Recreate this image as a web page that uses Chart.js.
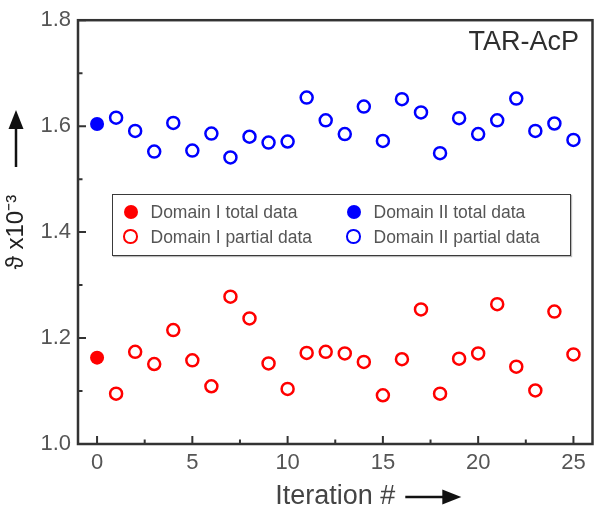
<!DOCTYPE html>
<html>
<head>
<meta charset="utf-8">
<script src="https://cdn.jsdelivr.net/npm/chart.js@4.4.1/dist/chart.umd.min.js"></script>
<style>
    html, body { margin: 0; padding: 0; background: #fff; }
    #wrap { position: relative; width: 601px; height: 518px; font-family: 'Liberation Sans', Arial, sans-serif; }
    #tag { position: absolute; right: 22px; top: 28px; font-size: 27px; line-height: 27px; color: #2e2e2e; }
    #legend { position: absolute; left: 112px; top: 194px; width: 459px; height: 62px; box-sizing: border-box;
              border: 1.5px solid #3a3a3a; box-shadow: 1px 1px 1px #bbb; background: #fff; }
    .lbl { position: absolute; font-size: 17.5px; line-height: 20px; color: #555; white-space: nowrap; }
    .dot { position: absolute; border-radius: 50%; box-sizing: border-box; }
</style>
</head>
<body>
<div id="wrap">
    <canvas id="grafico" width="601" height="518"></canvas>
    <div id="tag">TAR-AcP</div>
    <div id="legend"></div>
</div>
<script>
// iteration number of each partial-data run
const iteraciones = [1, 2, 3, 4, 5, 6, 7, 8, 9, 10, 11, 12, 13, 14, 15, 16, 17, 18, 19, 20, 21, 22, 23, 24, 25]
const dominio1Total = 1.163
const dominio2Total = 1.604
const dominio1Parcial = [1.095, 1.174, 1.151, 1.215, 1.158, 1.109, 1.278, 1.237, 1.152, 1.104, 1.172, 1.174, 1.171,
    1.155, 1.092, 1.160, 1.254, 1.095, 1.161, 1.171, 1.264, 1.146, 1.101, 1.250, 1.169]
const dominio2Parcial = [1.616, 1.591, 1.552, 1.606, 1.554, 1.586, 1.541, 1.580, 1.569, 1.571, 1.654, 1.611, 1.585,
    1.637, 1.572, 1.651, 1.626, 1.549, 1.615, 1.585, 1.611, 1.652, 1.591, 1.605, 1.574]

const xTicks = [0, 5, 10, 15, 20, 25]
const xMenores = [2.5, 7.5, 12.5, 17.5, 22.5]
const yTicks = [1.0, 1.2, 1.4, 1.6, 1.8]
const yMenores = [1.1, 1.3, 1.5, 1.7]

const fuente = "'Liberation Sans', Arial, sans-serif"
const rojo = '#ff0000'
const azul = '#0000ff'

const puntos = (xs, ys) => xs.map((x, i) => ({ x: x, y: ys[i] }))

// frame, inward ticks and the two arrows next to the axis titles
const marco = {
    id: 'marco',
    afterDraw(chart) {
        const { ctx, chartArea: a, scales: { x, y } } = chart
        ctx.save()
        ctx.strokeStyle = '#333'
        ctx.lineWidth = 2.5
        ctx.strokeRect(a.left, a.top, a.right - a.left, a.bottom - a.top)
        ctx.lineWidth = 2
        ctx.beginPath()
        for (const v of xTicks) { const px = x.getPixelForValue(v); ctx.moveTo(px, a.bottom); ctx.lineTo(px, a.bottom - 8) }
        for (const v of xMenores) { const px = x.getPixelForValue(v); ctx.moveTo(px, a.bottom); ctx.lineTo(px, a.bottom - 4.5) }
        for (const v of yTicks) { const py = y.getPixelForValue(v); ctx.moveTo(a.left, py); ctx.lineTo(a.left + 8, py) }
        for (const v of yMenores) { const py = y.getPixelForValue(v); ctx.moveTo(a.left, py); ctx.lineTo(a.left + 4.5, py) }
        ctx.stroke()

        // x arrow
        ctx.fillStyle = '#111'
        ctx.strokeStyle = '#111'
        ctx.lineWidth = 2.5
        ctx.font = '27px ' + fuente
        const wx = ctx.measureText(x.options.title.text).width
        const ax0 = (a.left + a.right) / 2 + wx / 2 + 10
        const ay = chart.height - 21
        ctx.beginPath(); ctx.moveTo(ax0, ay); ctx.lineTo(ax0 + 40, ay); ctx.stroke()
        ctx.beginPath(); ctx.moveTo(ax0 + 56, ay); ctx.lineTo(ax0 + 37, ay - 7.5); ctx.lineTo(ax0 + 37, ay + 7.5); ctx.closePath(); ctx.fill()

        // y arrow
        const ax = 16
        const ay0 = 167
        ctx.beginPath(); ctx.moveTo(ax, ay0); ctx.lineTo(ax, ay0 - 40); ctx.stroke()
        ctx.beginPath(); ctx.moveTo(ax, ay0 - 57); ctx.lineTo(ax - 7.5, ay0 - 38); ctx.lineTo(ax + 7.5, ay0 - 38); ctx.closePath(); ctx.fill()
        ctx.restore()
    }
}

const chart = new Chart(document.getElementById('grafico'), {
    type: 'scatter',
    data: {
        datasets: [
            { label: 'Domain I total data', data: puntos([0], [dominio1Total]),
              backgroundColor: rojo, borderColor: rojo, pointRadius: 7, pointBorderWidth: 0 },
            { label: 'Domain I partial data', data: puntos(iteraciones, dominio1Parcial),
              backgroundColor: 'rgba(0,0,0,0)', borderColor: rojo, pointRadius: 6, pointBorderWidth: 2.5 },
            { label: 'Domain II total data', data: puntos([0], [dominio2Total]),
              backgroundColor: azul, borderColor: azul, pointRadius: 7, pointBorderWidth: 0 },
            { label: 'Domain II partial data', data: puntos(iteraciones, dominio2Parcial),
              backgroundColor: 'rgba(0,0,0,0)', borderColor: azul, pointRadius: 6, pointBorderWidth: 2.5 }
        ]
    },
    options: {
        responsive: false,
        animation: false,
        layout: { padding: { left: 0, top: 15, right: 2, bottom: 0 } },
        plugins: { legend: { display: false }, tooltip: { enabled: false } },
        scales: {
            x: {
                type: 'linear', min: -1, max: 26,
                afterBuildTicks: s => { s.ticks = xTicks.map(v => ({ value: v })) },
                afterFit: s => { s.height = 74 },
                grid: { display: false, drawTicks: false },
                border: { display: false },
                ticks: { padding: 6, color: '#555', maxRotation: 0, autoSkip: false, font: { size: 22, family: fuente } },
                title: { display: true, text: 'Iteration #', color: '#444', font: { size: 27, family: fuente, lineHeight: 1 },
                         padding: { top: 0, bottom: 7.5 } }
            },
            y: {
                type: 'linear', min: 1.0, max: 1.8,
                afterBuildTicks: s => { s.ticks = yTicks.map(v => ({ value: v })) },
                afterFit: s => { s.width = 78 },
                grid: { display: false, drawTicks: false },
                border: { display: false },
                ticks: { padding: 7, color: '#555', font: { size: 22, family: fuente }, callback: v => v.toFixed(1) },
                title: { display: true, text: 'ϑ x10⁻³', color: '#222', font: { size: 24, family: fuente, lineHeight: 1 },
                         padding: { top: 4, bottom: 0 } }
            }
        }
    },
    plugins: [marco]
})

// legend box, built from the datasets
const leyenda = document.getElementById('legend')
const columnas = [17.5, 240.5]
const filas = [16.5, 41.5]
chart.data.datasets.forEach((ds, i) => {
    const cx = columnas[Math.floor(i / 2)]
    const cy = filas[i % 2]
    const dot = document.createElement('span')
    dot.className = 'dot'
    const lleno = ds.pointBorderWidth === 0
    const d = lleno ? 14 : 14.5
    dot.style.width = d + 'px'
    dot.style.height = d + 'px'
    dot.style.left = (cx - d / 2) + 'px'
    dot.style.top = (cy - d / 2) + 'px'
    if (lleno) dot.style.background = ds.backgroundColor
    else dot.style.border = '2.5px solid ' + ds.borderColor
    leyenda.appendChild(dot)
    const txt = document.createElement('span')
    txt.className = 'lbl'
    txt.textContent = ds.label
    txt.style.left = (cx + 20) + 'px'
    txt.style.top = (cy - 10) + 'px'
    leyenda.appendChild(txt)
})
</script>
</body>
</html>
